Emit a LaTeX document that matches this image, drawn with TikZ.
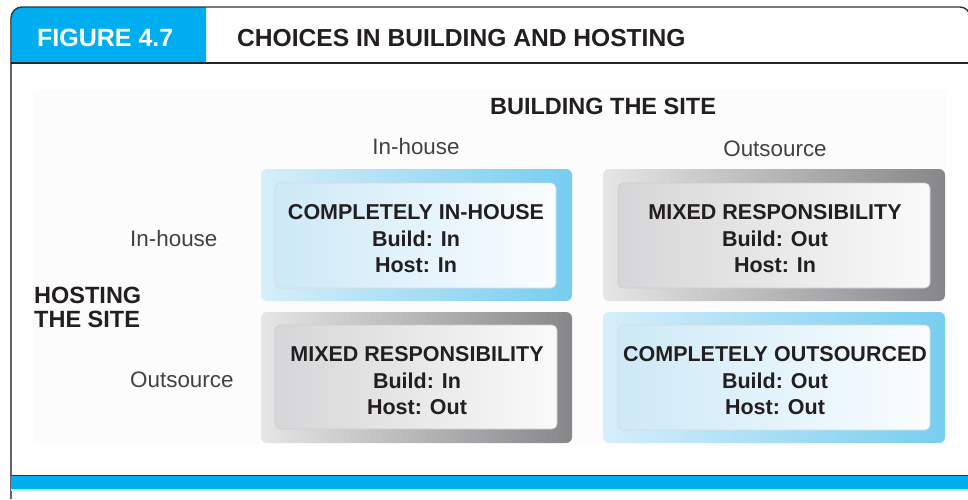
\documentclass[tikz,border=0pt]{standalone}
\usepackage{fontspec}
\setmainfont{Liberation Sans}
\setsansfont{Liberation Sans}
\definecolor{hdrblue}{RGB}{0,174,239}
\definecolor{paleblue}{RGB}{190,232,248}
\definecolor{bOutL}{RGB}{214,238,250}
\definecolor{bOutR}{RGB}{120,205,240}
\definecolor{bInL}{RGB}{205,233,247}
\definecolor{bInR}{RGB}{250,253,255}
\definecolor{gOutL}{RGB}{230,230,230}
\definecolor{gOutR}{RGB}{135,135,138}
\definecolor{gInL}{RGB}{214,214,216}
\definecolor{gInR}{RGB}{250,250,250}
\definecolor{txt}{RGB}{35,31,32}
\definecolor{framegray}{RGB}{100,100,100}
\definecolor{bgfaint}{RGB}{252,252,252}
\tikzset{
  outerblue/.style={rounded corners=6pt, left color=bOutL, right color=bOutR, draw=none},
  innerblue/.style={rounded corners=5pt, left color=bInL, right color=bInR, draw=white!85!black, line width=0.6pt},
  outergray/.style={rounded corners=6pt, left color=gOutL, right color=gOutR, draw=none},
  innergray/.style={rounded corners=5pt, left color=gInL, right color=gInR, draw=white!80!black, line width=0.6pt},
  boxtext/.style={align=center, inner sep=0pt, text=txt, font=\fontsize{21.5}{26.5}\selectfont\bfseries},
  lbl/.style={inner sep=0pt, text=txt!85!white, font=\fontsize{22.4}{24}\selectfont},
  head/.style={inner sep=0pt, text=txt, font=\fontsize{23.5}{24}\selectfont\bfseries},
}
\begin{document}
\begin{tikzpicture}[x=1pt,y=-1pt]
\useasboundingbox (0,0) rectangle (968,499);
\fill[white] (0,0) rectangle (968,499);
% faint background
\fill[bgfaint] (33,90) rectangle (947,443);
% header blue box
\fill[hdrblue] (11,63) -- (11,18) arc[start angle=180,end angle=270,radius=11] -- (206,7) -- (206,63) -- cycle;
% frame
\draw[framegray, line width=1.8pt] (11,499) -- (11,18);
\draw[black!80, line width=1.4pt] (11,18) arc[start angle=180,end angle=270,radius=11] -- (960,7) arc[start angle=270,end angle=360,radius=10] -- (970,499);
\draw[black!85, line width=1.6pt] (11,63) -- (968,63);
% footer
\fill[hdrblue] (11,476) rectangle (968,489);
\fill[paleblue] (11,489) rectangle (968,491);
\draw[black!80, line width=1.6pt] (11,475.5) -- (968,475.5);
% header texts
\node[anchor=base west, inner sep=0pt, text=white, font=\fontsize{25}{25}\selectfont\bfseries] (fig) at (37,46) {FIGURE 4.7};
\node[anchor=base west, inner sep=0pt, text=txt, font=\fontsize{24.6}{25}\selectfont\bfseries] (title) at (237,46) {CHOICES IN BUILDING AND HOSTING};
% axis labels
\node[head, anchor=base] (build) at (603,114) {BUILDING THE SITE};
\node[lbl, anchor=base] (colin) at (416,154) {In-house};
\node[lbl, anchor=base] (colout) at (775,156) {Outsource};
\node[lbl, anchor=base west] (rowin) at (130,246) {In-house};
\node[lbl, anchor=base west] (rowout) at (130,387) {Outsource};
\node[head, anchor=base west] (host1) at (34,303) {HOSTING};
\node[head, anchor=base west] (host2) at (34,327) {THE SITE};
% boxes
\path[outerblue] (261,169) rectangle (572,301);
\path[innerblue] (275,183) rectangle (556,288);
\path[outergray] (603,169) rectangle (945,301);
\path[innergray] (618,183) rectangle (930,288);
\path[outergray] (261,312) rectangle (572,443);
\path[innergray] (275,325) rectangle (557,429);
\path[outerblue] (603,312) rectangle (945,443);
\path[innerblue] (618,325) rectangle (930,430);
% box texts
\node[boxtext] (tl) at (416,238.6) {COMPLETELY IN-HOUSE\\Build: In\\Host: In};
\node[boxtext] (tr) at (775,238.6) {MIXED RESPONSIBILITY\\Build: Out\\Host: In};
\node[boxtext] (bl) at (417,380.6) {MIXED RESPONSIBILITY\\Build: In\\Host: Out};
\node[boxtext] (br) at (775,380.6) {COMPLETELY OUTSOURCED\\Build: Out\\Host: Out};
\end{tikzpicture}
\end{document}
